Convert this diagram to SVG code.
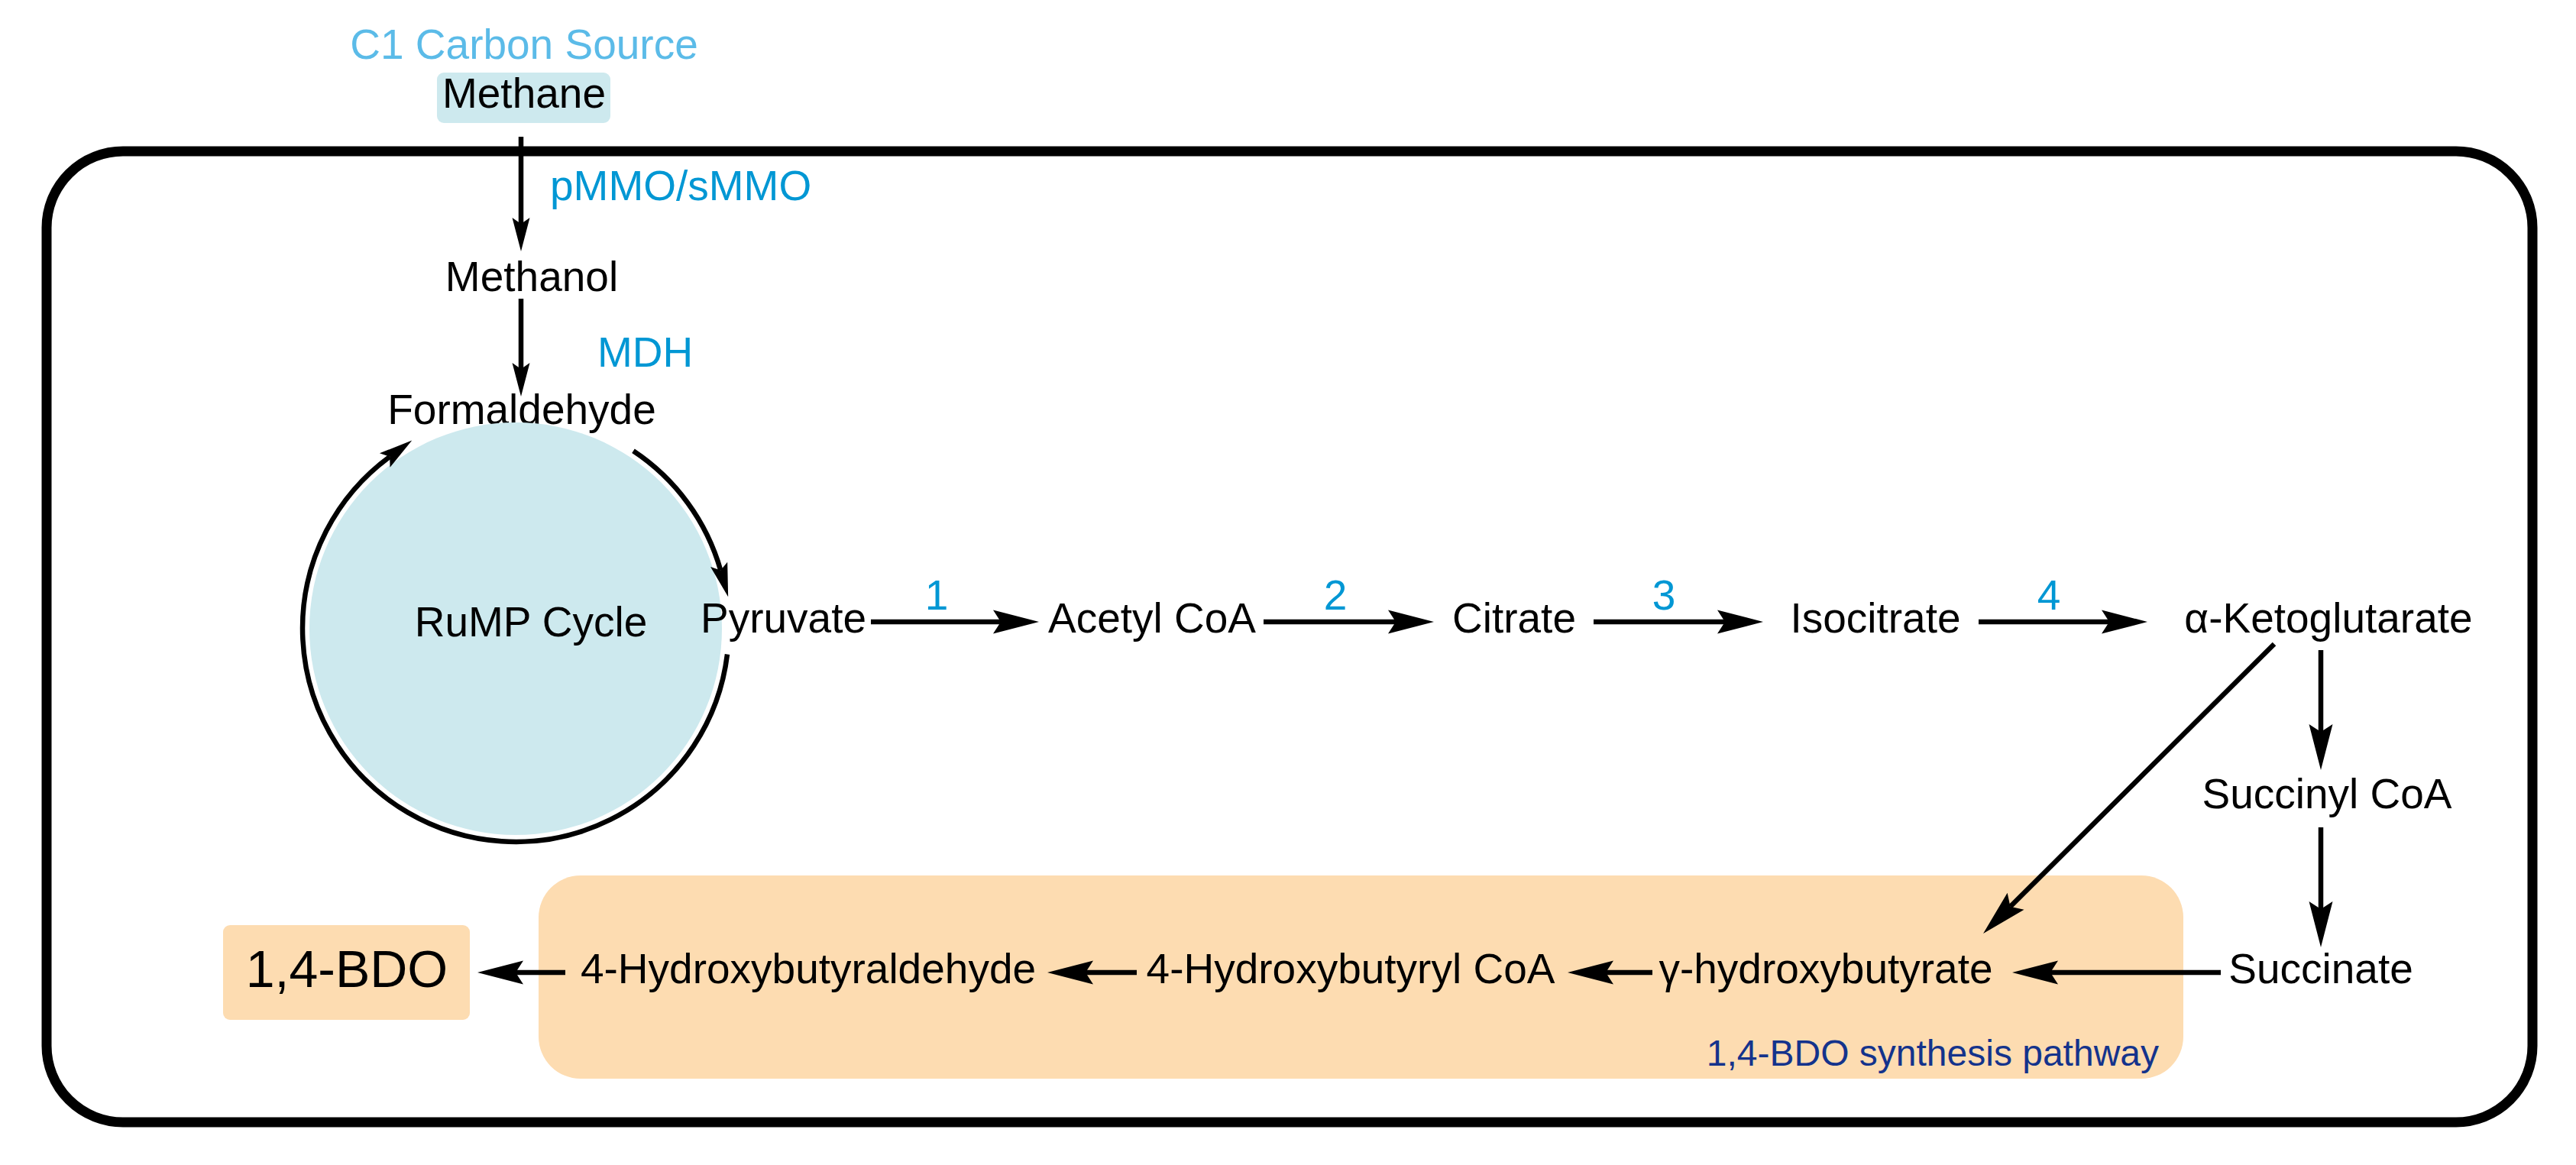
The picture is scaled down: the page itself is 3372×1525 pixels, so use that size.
<svg xmlns="http://www.w3.org/2000/svg" width="3372" height="1525" viewBox="0 0 3372 1525">
  <style>
    .t { font-family: "Liberation Sans", Arial, sans-serif; font-size: 55px; fill: #000; }
    .c { text-anchor: middle; }
    .enz { fill: #0097d4; }
    .src { fill: #5bbbe8; }
    .path-label { fill: #14338c; font-size: 48px; text-anchor: end; }
    .ln { fill: none; stroke: #000; stroke-width: 6.5; }
    .big { marker-end: url(#ahL); }
    .sm { marker-end: url(#ahS); }
    .blue { fill: #cde9ee; }
    .orange { fill: #fddcb1; }
  </style>
  <defs>
    <marker id="ahL" markerUnits="userSpaceOnUse" orient="auto" refX="0" refY="0" markerWidth="80" markerHeight="40" overflow="visible">
      <path d="M50,0 L-10,-15.5 L0,0 L-10,15.5 Z" fill="#000"/>
    </marker>
    <marker id="ahS" markerUnits="userSpaceOnUse" orient="auto" refX="0" refY="0" markerWidth="60" markerHeight="30" overflow="visible">
      <path d="M36,0 L-8,-11.5 L0,0 L-8,11.5 Z" fill="#000"/>
    </marker>
  </defs>

  <rect x="0" y="0" width="3372" height="1525" fill="#fff"/>

  <g id="cell">
    <rect x="61" y="198" width="3254" height="1271" rx="100" ry="100" fill="none" stroke="#000" stroke-width="13"/>
  </g>

  <g id="pathway-box">
    <rect class="orange" x="705" y="1146" width="2153" height="266" rx="55" ry="55"/>
    <text class="t path-label" x="2826" y="1395">1,4-BDO synthesis pathway</text>
  </g>

  <g id="c1-source">
    <text class="t c src" x="686" y="77">C1 Carbon Source</text>
  </g>

  <g id="methane">
    <rect class="blue" x="572" y="95" width="227" height="66" rx="9" ry="9"/>
    <text class="t c" x="686" y="141">Methane</text>
  </g>

  <g id="methanol">
    <text class="t c" x="696" y="381">Methanol</text>
  </g>

  <g id="formaldehyde">
    <text class="t c" x="683" y="555">Formaldehyde</text>
  </g>

  <g id="rump-cycle">
    <circle class="blue" cx="675" cy="823" r="270"/>
    <text class="t c" x="695" y="833">RuMP Cycle</text>
  </g>

  <g id="pyruvate">
    <text class="t" x="917" y="828">Pyruvate</text>
  </g>
  <g id="acetyl-coa">
    <text class="t c" x="1508" y="828">Acetyl CoA</text>
  </g>
  <g id="citrate">
    <text class="t c" x="1982" y="828">Citrate</text>
  </g>
  <g id="isocitrate">
    <text class="t c" x="2455" y="828">Isocitrate</text>
  </g>
  <g id="a-ketoglutarate">
    <text class="t c" x="3048" y="828">α-Ketoglutarate</text>
  </g>
  <g id="succinyl-coa">
    <text class="t c" x="3046" y="1058">Succinyl CoA</text>
  </g>
  <g id="succinate">
    <text class="t c" x="3038" y="1287">Succinate</text>
  </g>
  <g id="g-hydroxybutyrate">
    <text class="t c" x="2390" y="1287">γ-hydroxybutyrate</text>
  </g>
  <g id="hydroxybutyryl-coa">
    <text class="t c" x="1768" y="1287">4-Hydroxybutyryl CoA</text>
  </g>
  <g id="hydroxybutyraldehyde">
    <text class="t c" x="1058" y="1287">4-Hydroxybutyraldehyde</text>
  </g>
  <g id="bdo">
    <rect class="orange" x="292" y="1211" width="323" height="124" rx="9" ry="9"/>
    <text class="t c" x="454" y="1292" style="font-size:68px">1,4-BDO</text>
  </g>

  <g id="enzymes">
    <text class="t enz" x="720" y="262">pMMO/sMMO</text>
    <text class="t enz" x="782" y="480">MDH</text>
    <text class="t c enz" x="1226" y="798">1</text>
    <text class="t c enz" x="1748" y="798">2</text>
    <text class="t c enz" x="2178" y="798">3</text>
    <text class="t c enz" x="2682" y="798">4</text>
  </g>

  <g id="connectors">
    <path class="ln sm" d="M682,179 V293"/>
    <path class="ln sm" d="M682,391 V483"/>
    <path class="ln sm" stroke-width="7.5" d="M952,856.5 A279,279 0 1 1 510.2,597.8"/>
    <path class="ln sm" stroke-width="7.5" d="M829,590.3 A279,279 0 0 1 943.3,746.6"/>
    <path class="ln big" d="M1140,814 H1310"/>
    <path class="ln big" d="M1654,814 H1827"/>
    <path class="ln big" d="M2086,814 H2258"/>
    <path class="ln big" d="M2590,814 H2761"/>
    <path class="ln big" d="M3038,851 V958"/>
    <path class="ln big" d="M3038,1083 V1190"/>
    <path class="ln big" d="M2977,843 L2631.5,1186.7"/>
    <path class="ln big" d="M2907,1273 H2684"/>
    <path class="ln big" d="M2163,1273 H2102"/>
    <path class="ln big" d="M1488,1273 H1421"/>
    <path class="ln big" d="M740,1273 H675"/>
  </g>
</svg>
